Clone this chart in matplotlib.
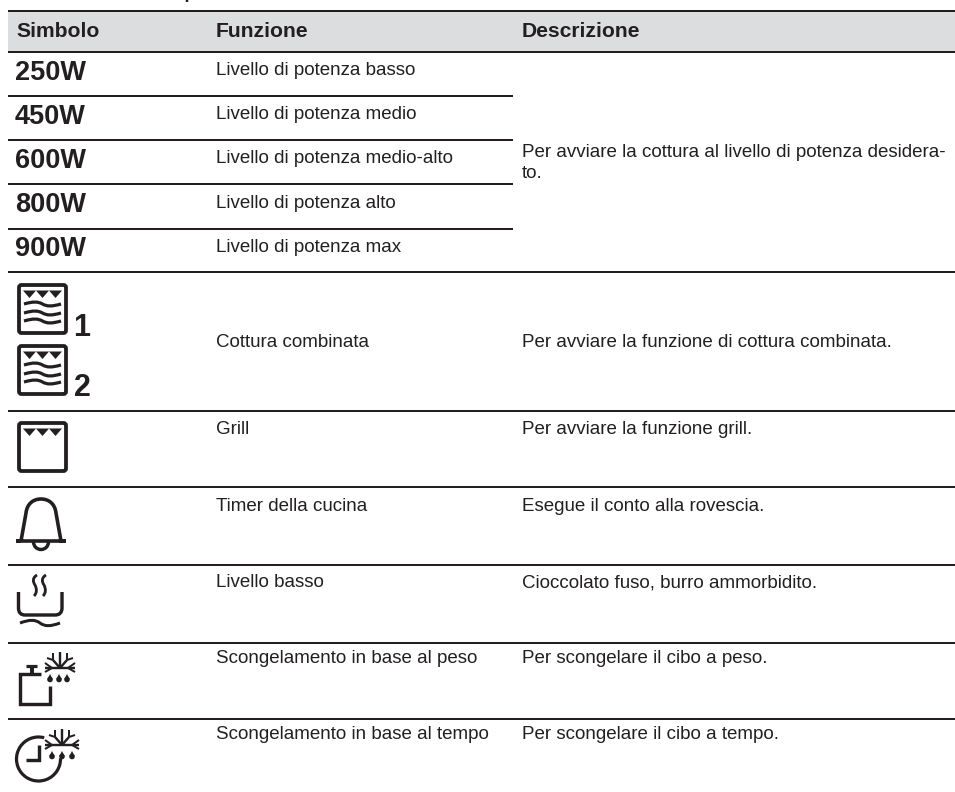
import matplotlib
matplotlib.use('Agg')
import matplotlib.pyplot as plt
from matplotlib.path import Path
from matplotlib.patches import PathPatch, FancyBboxPatch, Polygon, Arc, Circle

W, H = 955, 792
INK = '#231f20'
PX = 0.72

headers = ['Simbolo', 'Funzione', 'Descrizione']
col_x = [16, 216, 522]
powers = ['250W', '450W', '600W', '800W', '900W']
functions = ['Livello di potenza basso', 'Livello di potenza medio', 'Livello di potenza medio-alto',
             'Livello di potenza alto', 'Livello di potenza max', 'Cottura combinata', 'Grill',
             'Timer della cucina', 'Livello basso', 'Scongelamento in base al peso',
             'Scongelamento in base al tempo']
function_y = [75, 119, 163, 208, 252, 347, 434, 511, 587, 663, 739]
descriptions = ['Per avviare la cottura al livello di potenza desidera-', 'to.',
                'Per avviare la funzione di cottura combinata.', 'Per avviare la funzione grill.',
                'Esegue il conto alla rovescia.', 'Cioccolato fuso, burro ammorbidito.',
                'Per scongelare il cibo a peso.', 'Per scongelare il cibo a tempo.']
description_y = [157, 178, 347, 434, 511, 587, 663, 739]
power_y = [80, 124, 168, 212, 256]
short_rules = [96, 140, 184, 229]
full_rules = [52, 272, 411, 487, 565, 643, 719]


def line(ax, xs, ys, lw=3.4):
    ax.plot(xs, ys, color=INK, lw=lw * PX, solid_capstyle='butt', solid_joinstyle='miter')


def wave(ax, x0, x1, y, amp, lw=3.2):
    # one S shape from two bezier pieces
    m = (x0 + x1) / 2
    q = (x1 - x0) / 4
    verts = [(x0, y), (x0 + q, y - amp * 2), (m - q * 0.5, y - amp * 2), (m, y),
             (m + q * 0.5, y + amp * 2), (x1 - q, y + amp * 2), (x1, y)]
    codes = [Path.MOVETO] + [Path.CURVE4] * 6
    ax.add_patch(PathPatch(Path(verts, codes), fill=False, ec=INK, lw=lw * PX))


def oven(ax, top, waves=True):
    ax.add_patch(FancyBboxPatch((19, top), 47, 48, boxstyle='round,pad=0,rounding_size=2.5',
                                fill=False, ec=INK, lw=3.8 * PX))
    for x0 in [23, 36, 49]:
        ax.add_patch(Polygon([(x0, top + 5.5), (x0 + 13, top + 5.5), (x0 + 6.5, top + 13)], fc=INK, ec='none'))
    if waves:
        for dy in [19, 28, 36]:
            wave(ax, 24, 61, top + dy, 1.3)


def flake(ax, cx, y, half, top):
    line(ax, [cx - half, cx + half], [y, y], 2.4)
    line(ax, [cx, cx], [top, y], 2.4)
    for s in [-1, 1]:
        line(ax, [cx, cx + s * 7], [y, y - 8], 2.4)
        line(ax, [cx + s * 7, cx + s * 7], [y - 8, y - 15], 2)
        line(ax, [cx + s * 7, cx + s * 13], [y - 8, y - 10], 2)
        line(ax, [cx + s * (half - 7), cx + s * half], [y, y - 5], 2)
        line(ax, [cx + s * (half - 7), cx + s * half], [y, y + 4], 2)


def drop(ax, x, top):
    ax.add_patch(Polygon([(x, top), (x - 2.6, top + 5), (x + 2.6, top + 5)], fc=INK, ec='none'))
    ax.add_patch(Circle((x, top + 5.5), 2.8, fc=INK, ec='none'))


def bell(ax):
    verts = [(21, 541), (26, 513), (27, 504), (33, 499), (41, 499), (49, 499), (55, 504), (56, 513),
             (61, 541), (66, 541), (16, 541), (21, 541)]
    codes = [Path.MOVETO, Path.LINETO, Path.CURVE4, Path.CURVE4, Path.CURVE4, Path.CURVE4, Path.CURVE4,
             Path.CURVE4, Path.LINETO, Path.LINETO, Path.LINETO, Path.LINETO]
    ax.add_patch(PathPatch(Path(verts, codes), fill=False, ec=INK, lw=3.6 * PX))
    ax.add_patch(Arc((41, 542), 15, 15, theta1=0, theta2=180, ec=INK, lw=3.4 * PX))


def pot(ax):
    verts = [(18.5, 592), (18.5, 608), (18.5, 615), (25, 615), (55, 615), (62, 615), (62, 608), (62, 592)]
    codes = [Path.MOVETO, Path.LINETO, Path.CURVE3, Path.CURVE3, Path.LINETO, Path.CURVE3, Path.CURVE3, Path.LINETO]
    ax.add_patch(PathPatch(Path(verts, codes), fill=False, ec=INK, lw=3.4 * PX))
    for x in [35, 44]:
        verts = [(x + 2, 575), (x - 3, 578), (x - 2, 582), (x, 585), (x + 2, 589), (x + 2, 593), (x - 1, 596)]
        ax.add_patch(PathPatch(Path(verts, [Path.MOVETO] + [Path.CURVE4] * 6), fill=False, ec=INK, lw=2.8 * PX))
    wave(ax, 20, 60, 623, 1.8, 3)


def weight(ax):
    line(ax, [41, 19.5, 19.5, 50, 50], [674, 674, 704, 704, 686])
    line(ax, [26, 37], [665.5, 665.5], 3.2)
    line(ax, [32, 32], [665, 674], 4)
    flake(ax, 60, 668, 15, 652)
    for x in [50, 59, 67]:
        drop(ax, x, 674)


def clock(ax):
    ax.add_patch(Arc((38.5, 759), 44, 44, theta1=-2, theta2=285, ec=INK, lw=3.2 * PX))
    line(ax, [39, 39, 26], [745, 760, 760])
    flake(ax, 62, 745, 17, 729)
    for x in [52, 62, 72]:
        drop(ax, x, 751)


fig = plt.figure(figsize=(W / 100, H / 100), dpi=100)
ax = fig.add_axes([0, 0, 1, 1])
ax.set_xlim(0, W)
ax.set_ylim(H, 0)
ax.axis('off')
plt.rcParams['font.family'] = ['Liberation Sans', 'DejaVu Sans']

ax.fill_between([8, W], 11, 52, color='#dcddde', lw=0)
line(ax, [8, W], [11, 11], 2)
for y in full_rules:
    line(ax, [8, W], [y, y], 2)
for y in short_rules:
    line(ax, [8, 513], [y, y], 2)
# tail of the cropped heading above the table
line(ax, [187, 187], [0, 2], 2.5)

for x, label in zip(col_x, headers):
    ax.text(x, 37, label, fontsize=15.2, fontweight='bold', color=INK, va='baseline')
for y, label in zip(power_y, powers):
    ax.text(15, y, label, fontsize=19.5, fontweight='bold', color=INK, va='baseline')
for y, label in zip(function_y, functions):
    ax.text(216, y, label, fontsize=13.5, color=INK, va='baseline')
for y, label in zip(description_y, descriptions):
    ax.text(522, y, label, fontsize=13.5, color=INK, va='baseline')

oven(ax, 285)
oven(ax, 346)
oven(ax, 423, waves=False)
ax.text(73, 336, '1', fontsize=22, fontweight='bold', color=INK, va='baseline')
ax.text(74, 396, '2', fontsize=22, fontweight='bold', color=INK, va='baseline')
bell(ax)
pot(ax)
weight(ax)
clock(ax)

fig.savefig('out.png', dpi=100)
